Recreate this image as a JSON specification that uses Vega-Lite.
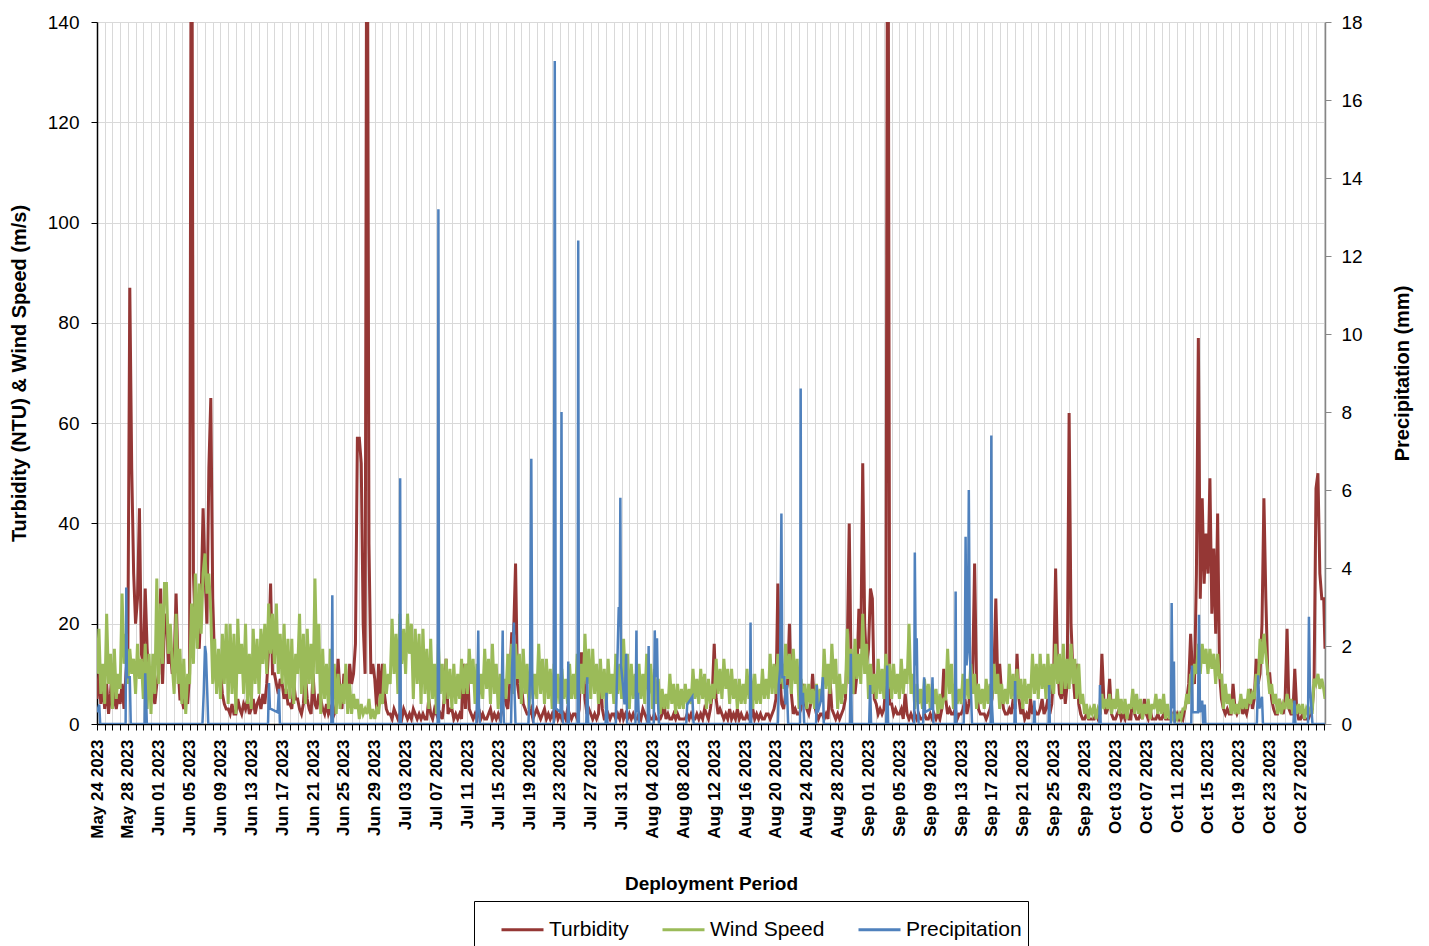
{
"$schema":"https://vega.github.io/schema/vega-lite/v6.json",
"width":1228,"height":702,
"autosize":"none",
"padding":{"left":97,"top":22,"right":104,"bottom":222},
"background":"white",
"config":{"font":"Liberation Sans","view":{"stroke":null}},
"layer":[
{"data":{"values":[
{"t":"2023-05-24T00:00","T":5,"W":10},{"t":"2023-05-24T06:00","T":10,"W":19},{"t":"2023-05-24T12:00","T":4,"W":6},{"t":"2023-05-24T18:00","T":8,"W":12},
{"t":"2023-05-25T00:00","T":3,"W":4},{"t":"2023-05-25T06:00","T":8,"W":22},{"t":"2023-05-25T12:00","T":2,"W":8},{"t":"2023-05-25T18:00","T":6,"W":14},
{"t":"2023-05-26T00:00","T":12,"W":3},{"t":"2023-05-26T06:00","T":5,"W":15},{"t":"2023-05-26T12:00","T":3,"W":5},{"t":"2023-05-26T18:00","T":6,"W":10},
{"t":"2023-05-27T00:00","T":4,"W":7},{"t":"2023-05-27T06:00","T":8,"W":26},{"t":"2023-05-27T12:00","T":3,"W":12},{"t":"2023-05-27T18:00","T":10,"W":18},
{"t":"2023-05-28T00:00","T":15,"W":8},{"t":"2023-05-28T06:00","T":87,"W":15},{"t":"2023-05-28T12:00","T":51,"W":10},{"t":"2023-05-28T18:00","T":30,"W":13},
{"t":"2023-05-29T00:00","T":20,"W":6},{"t":"2023-05-29T06:00","T":25,"W":16},{"t":"2023-05-29T12:00","T":43,"W":9},{"t":"2023-05-29T18:00","T":14,"W":13},
{"t":"2023-05-30T00:00","T":12,"W":5},{"t":"2023-05-30T06:00","T":27,"W":16},{"t":"2023-05-30T12:00","T":15,"W":3},{"t":"2023-05-30T18:00","T":8,"W":14},
{"t":"2023-05-31T00:00","T":10,"W":2},{"t":"2023-05-31T06:00","T":6,"W":14},{"t":"2023-05-31T12:00","T":4,"W":6},{"t":"2023-05-31T18:00","T":8,"W":29},
{"t":"2023-06-01T00:00","T":10,"W":8},{"t":"2023-06-01T06:00","T":27,"W":24},{"t":"2023-06-01T12:00","T":8,"W":12},{"t":"2023-06-01T18:00","T":20,"W":28},
{"t":"2023-06-02T00:00","T":22,"W":28},{"t":"2023-06-02T06:00","T":12,"W":14},{"t":"2023-06-02T12:00","T":15,"W":20},{"t":"2023-06-02T18:00","T":10,"W":12},
{"t":"2023-06-03T00:00","T":12,"W":6},{"t":"2023-06-03T06:00","T":26,"W":22},{"t":"2023-06-03T12:00","T":12,"W":8},{"t":"2023-06-03T18:00","T":5,"W":15},
{"t":"2023-06-04T00:00","T":5,"W":4},{"t":"2023-06-04T06:00","T":3,"W":13},{"t":"2023-06-04T12:00","T":6,"W":2},{"t":"2023-06-04T18:00","T":4,"W":10},
{"t":"2023-06-05T00:00","T":10,"W":8},{"t":"2023-06-05T06:00","T":200,"W":24},{"t":"2023-06-05T12:00","T":30,"W":12},{"t":"2023-06-05T18:00","T":18,"W":30},
{"t":"2023-06-06T00:00","T":20,"W":15},{"t":"2023-06-06T06:00","T":15,"W":28},{"t":"2023-06-06T12:00","T":25,"W":18},{"t":"2023-06-06T18:00","T":43,"W":30},
{"t":"2023-06-07T00:00","T":30,"W":34},{"t":"2023-06-07T06:00","T":20,"W":26},{"t":"2023-06-07T12:00","T":51,"W":30},{"t":"2023-06-07T18:00","T":65,"W":22},
{"t":"2023-06-08T00:00","T":25,"W":8},{"t":"2023-06-08T06:00","T":12,"W":17},{"t":"2023-06-08T12:00","T":8,"W":6},{"t":"2023-06-08T18:00","T":12,"W":15},
{"t":"2023-06-09T00:00","T":11,"W":5},{"t":"2023-06-09T06:00","T":6,"W":18},{"t":"2023-06-09T12:00","T":4,"W":8},{"t":"2023-06-09T18:00","T":3,"W":20},
{"t":"2023-06-10T00:00","T":3,"W":4},{"t":"2023-06-10T06:00","T":2,"W":20},{"t":"2023-06-10T12:00","T":4,"W":6},{"t":"2023-06-10T18:00","T":2,"W":18},
{"t":"2023-06-11T00:00","T":2,"W":2},{"t":"2023-06-11T06:00","T":5,"W":21},{"t":"2023-06-11T12:00","T":3,"W":10},{"t":"2023-06-11T18:00","T":2,"W":16},
{"t":"2023-06-12T00:00","T":4,"W":6},{"t":"2023-06-12T06:00","T":3,"W":20},{"t":"2023-06-12T12:00","T":5,"W":4},{"t":"2023-06-12T18:00","T":2,"W":14},
{"t":"2023-06-13T00:00","T":3,"W":3},{"t":"2023-06-13T06:00","T":5,"W":19},{"t":"2023-06-13T12:00","T":2,"W":8},{"t":"2023-06-13T18:00","T":4,"W":17},
{"t":"2023-06-14T00:00","T":5,"W":6},{"t":"2023-06-14T06:00","T":3,"W":19},{"t":"2023-06-14T12:00","T":6,"W":12},{"t":"2023-06-14T18:00","T":4,"W":20},
{"t":"2023-06-15T00:00","T":8,"W":10},{"t":"2023-06-15T06:00","T":15,"W":24},{"t":"2023-06-15T12:00","T":28,"W":14},{"t":"2023-06-15T18:00","T":10,"W":22},
{"t":"2023-06-16T00:00","T":10,"W":12},{"t":"2023-06-16T06:00","T":8,"W":24},{"t":"2023-06-16T12:00","T":6,"W":10},{"t":"2023-06-16T18:00","T":9,"W":18},
{"t":"2023-06-17T00:00","T":8,"W":8},{"t":"2023-06-17T06:00","T":5,"W":20},{"t":"2023-06-17T12:00","T":7,"W":6},{"t":"2023-06-17T18:00","T":4,"W":17},
{"t":"2023-06-18T00:00","T":4,"W":5},{"t":"2023-06-18T06:00","T":3,"W":17},{"t":"2023-06-18T12:00","T":8,"W":4},{"t":"2023-06-18T18:00","T":5,"W":14},
{"t":"2023-06-19T00:00","T":5,"W":10},{"t":"2023-06-19T06:00","T":3,"W":22},{"t":"2023-06-19T12:00","T":2,"W":6},{"t":"2023-06-19T18:00","T":4,"W":18},
{"t":"2023-06-20T00:00","T":10,"W":4},{"t":"2023-06-20T06:00","T":5,"W":19},{"t":"2023-06-20T12:00","T":3,"W":8},{"t":"2023-06-20T18:00","T":2,"W":16},
{"t":"2023-06-21T00:00","T":10,"W":6},{"t":"2023-06-21T06:00","T":4,"W":29},{"t":"2023-06-21T12:00","T":3,"W":10},{"t":"2023-06-21T18:00","T":6,"W":20},
{"t":"2023-06-22T00:00","T":5,"W":2},{"t":"2023-06-22T06:00","T":3,"W":15},{"t":"2023-06-22T12:00","T":2,"W":5},{"t":"2023-06-22T18:00","T":4,"W":12},
{"t":"2023-06-23T00:00","T":2,"W":3},{"t":"2023-06-23T06:00","T":3,"W":15},{"t":"2023-06-23T12:00","T":1,"W":4},{"t":"2023-06-23T18:00","T":2,"W":12},
{"t":"2023-06-24T00:00","T":4,"W":2},{"t":"2023-06-24T06:00","T":13,"W":10},{"t":"2023-06-24T12:00","T":6,"W":3},{"t":"2023-06-24T18:00","T":3,"W":8},
{"t":"2023-06-25T00:00","T":10,"W":4},{"t":"2023-06-25T06:00","T":8,"W":12},{"t":"2023-06-25T12:00","T":5,"W":2},{"t":"2023-06-25T18:00","T":12,"W":8},
{"t":"2023-06-26T00:00","T":8,"W":2},{"t":"2023-06-26T06:00","T":10,"W":6},{"t":"2023-06-26T12:00","T":16,"W":3},{"t":"2023-06-26T18:00","T":57,"W":5},
{"t":"2023-06-27T00:00","T":57,"W":1},{"t":"2023-06-27T06:00","T":52,"W":4},{"t":"2023-06-27T12:00","T":20,"W":2},{"t":"2023-06-27T18:00","T":10,"W":3},
{"t":"2023-06-28T00:00","T":200,"W":2},{"t":"2023-06-28T06:00","T":36,"W":5},{"t":"2023-06-28T12:00","T":10,"W":1},{"t":"2023-06-28T18:00","T":12,"W":3},
{"t":"2023-06-29T00:00","T":9,"W":1},{"t":"2023-06-29T06:00","T":3,"W":3},{"t":"2023-06-29T12:00","T":12,"W":2},{"t":"2023-06-29T18:00","T":5,"W":6},
{"t":"2023-06-30T00:00","T":12,"W":4},{"t":"2023-06-30T06:00","T":6,"W":12},{"t":"2023-06-30T12:00","T":3,"W":6},{"t":"2023-06-30T18:00","T":2,"W":10},
{"t":"2023-07-01T00:00","T":2,"W":8},{"t":"2023-07-01T06:00","T":1,"W":21},{"t":"2023-07-01T12:00","T":3,"W":10},{"t":"2023-07-01T18:00","T":2,"W":18},
{"t":"2023-07-02T00:00","T":1,"W":6},{"t":"2023-07-02T06:00","T":2,"W":22},{"t":"2023-07-02T12:00","T":1,"W":12},{"t":"2023-07-02T18:00","T":3,"W":19},
{"t":"2023-07-03T00:00","T":2,"W":10},{"t":"2023-07-03T06:00","T":1,"W":22},{"t":"2023-07-03T12:00","T":2,"W":14},{"t":"2023-07-03T18:00","T":1,"W":20},
{"t":"2023-07-04T00:00","T":3,"W":5},{"t":"2023-07-04T06:00","T":2,"W":19},{"t":"2023-07-04T12:00","T":1,"W":8},{"t":"2023-07-04T18:00","T":2,"W":18},
{"t":"2023-07-05T00:00","T":1,"W":4},{"t":"2023-07-05T06:00","T":2,"W":19},{"t":"2023-07-05T12:00","T":1,"W":6},{"t":"2023-07-05T18:00","T":1,"W":15},
{"t":"2023-07-06T00:00","T":5,"W":3},{"t":"2023-07-06T06:00","T":2,"W":17},{"t":"2023-07-06T12:00","T":1,"W":5},{"t":"2023-07-06T18:00","T":3,"W":12},
{"t":"2023-07-07T00:00","T":2,"W":2},{"t":"2023-07-07T06:00","T":1,"W":16},{"t":"2023-07-07T12:00","T":2,"W":6},{"t":"2023-07-07T18:00","T":1,"W":12},
{"t":"2023-07-08T00:00","T":5,"W":4},{"t":"2023-07-08T06:00","T":13,"W":13},{"t":"2023-07-08T12:00","T":2,"W":5},{"t":"2023-07-08T18:00","T":3,"W":11},
{"t":"2023-07-09T00:00","T":3,"W":3},{"t":"2023-07-09T06:00","T":1,"W":12},{"t":"2023-07-09T12:00","T":2,"W":4},{"t":"2023-07-09T18:00","T":1,"W":10},
{"t":"2023-07-10T00:00","T":2,"W":5},{"t":"2023-07-10T06:00","T":1,"W":13},{"t":"2023-07-10T12:00","T":12,"W":6},{"t":"2023-07-10T18:00","T":3,"W":12},
{"t":"2023-07-11T00:00","T":12,"W":6},{"t":"2023-07-11T06:00","T":3,"W":15},{"t":"2023-07-11T12:00","T":2,"W":8},{"t":"2023-07-11T18:00","T":1,"W":13},
{"t":"2023-07-12T00:00","T":2,"W":4},{"t":"2023-07-12T06:00","T":1,"W":12},{"t":"2023-07-12T12:00","T":3,"W":5},{"t":"2023-07-12T18:00","T":1,"W":10},
{"t":"2023-07-13T00:00","T":2,"W":5},{"t":"2023-07-13T06:00","T":1,"W":15},{"t":"2023-07-13T12:00","T":1,"W":7},{"t":"2023-07-13T18:00","T":2,"W":13},
{"t":"2023-07-14T00:00","T":3,"W":4},{"t":"2023-07-14T06:00","T":1,"W":16},{"t":"2023-07-14T12:00","T":2,"W":6},{"t":"2023-07-14T18:00","T":1,"W":12},
{"t":"2023-07-15T00:00","T":2,"W":3},{"t":"2023-07-15T06:00","T":1,"W":10},{"t":"2023-07-15T12:00","T":3,"W":4},{"t":"2023-07-15T18:00","T":8,"W":9},
{"t":"2023-07-16T00:00","T":4,"W":5},{"t":"2023-07-16T06:00","T":3,"W":14},{"t":"2023-07-16T12:00","T":8,"W":8},{"t":"2023-07-16T18:00","T":18,"W":16},
{"t":"2023-07-17T00:00","T":18,"W":6},{"t":"2023-07-17T06:00","T":32,"W":16},{"t":"2023-07-17T12:00","T":8,"W":9},{"t":"2023-07-17T18:00","T":5,"W":14},
{"t":"2023-07-18T00:00","T":8,"W":4},{"t":"2023-07-18T06:00","T":4,"W":15},{"t":"2023-07-18T12:00","T":3,"W":6},{"t":"2023-07-18T18:00","T":2,"W":12},
{"t":"2023-07-19T00:00","T":2,"W":3},{"t":"2023-07-19T06:00","T":3,"W":13},{"t":"2023-07-19T12:00","T":1,"W":5},{"t":"2023-07-19T18:00","T":2,"W":10},
{"t":"2023-07-20T00:00","T":3,"W":5},{"t":"2023-07-20T06:00","T":2,"W":16},{"t":"2023-07-20T12:00","T":1,"W":6},{"t":"2023-07-20T18:00","T":2,"W":13},
{"t":"2023-07-21T00:00","T":3,"W":4},{"t":"2023-07-21T06:00","T":1,"W":13},{"t":"2023-07-21T12:00","T":2,"W":5},{"t":"2023-07-21T18:00","T":1,"W":11},
{"t":"2023-07-22T00:00","T":2,"W":3},{"t":"2023-07-22T06:00","T":1,"W":12},{"t":"2023-07-22T12:00","T":3,"W":4},{"t":"2023-07-22T18:00","T":1,"W":10},
{"t":"2023-07-23T00:00","T":2,"W":4},{"t":"2023-07-23T06:00","T":1,"W":11},{"t":"2023-07-23T12:00","T":2,"W":5},{"t":"2023-07-23T18:00","T":1,"W":9},
{"t":"2023-07-24T00:00","T":3,"W":4},{"t":"2023-07-24T06:00","T":2,"W":12},{"t":"2023-07-24T12:00","T":1,"W":5},{"t":"2023-07-24T18:00","T":2,"W":10},
{"t":"2023-07-25T00:00","T":2,"W":5},{"t":"2023-07-25T06:00","T":1,"W":14},{"t":"2023-07-25T12:00","T":3,"W":6},{"t":"2023-07-25T18:00","T":14,"W":12},
{"t":"2023-07-26T00:00","T":14,"W":6},{"t":"2023-07-26T06:00","T":5,"W":18},{"t":"2023-07-26T12:00","T":2,"W":8},{"t":"2023-07-26T18:00","T":3,"W":15},
{"t":"2023-07-27T00:00","T":2,"W":5},{"t":"2023-07-27T06:00","T":1,"W":15},{"t":"2023-07-27T12:00","T":2,"W":6},{"t":"2023-07-27T18:00","T":1,"W":12},
{"t":"2023-07-28T00:00","T":2,"W":4},{"t":"2023-07-28T06:00","T":10,"W":13},{"t":"2023-07-28T12:00","T":3,"W":5},{"t":"2023-07-28T18:00","T":1,"W":11},
{"t":"2023-07-29T00:00","T":1,"W":3},{"t":"2023-07-29T06:00","T":2,"W":13},{"t":"2023-07-29T12:00","T":1,"W":6},{"t":"2023-07-29T18:00","T":2,"W":10},
{"t":"2023-07-30T00:00","T":2,"W":4},{"t":"2023-07-30T06:00","T":1,"W":14},{"t":"2023-07-30T12:00","T":2,"W":6},{"t":"2023-07-30T18:00","T":1,"W":12},
{"t":"2023-07-31T00:00","T":3,"W":5},{"t":"2023-07-31T06:00","T":1,"W":17},{"t":"2023-07-31T12:00","T":2,"W":8},{"t":"2023-07-31T18:00","T":1,"W":14},
{"t":"2023-08-01T00:00","T":2,"W":3},{"t":"2023-08-01T06:00","T":1,"W":12},{"t":"2023-08-01T12:00","T":2,"W":5},{"t":"2023-08-01T18:00","T":1,"W":10},
{"t":"2023-08-02T00:00","T":1,"W":4},{"t":"2023-08-02T06:00","T":2,"W":12},{"t":"2023-08-02T12:00","T":1,"W":5},{"t":"2023-08-02T18:00","T":3,"W":10},
{"t":"2023-08-03T00:00","T":2,"W":4},{"t":"2023-08-03T06:00","T":1,"W":14},{"t":"2023-08-03T12:00","T":2,"W":6},{"t":"2023-08-03T18:00","T":1,"W":12},
{"t":"2023-08-04T00:00","T":1,"W":3},{"t":"2023-08-04T06:00","T":2,"W":11},{"t":"2023-08-04T12:00","T":1,"W":4},{"t":"2023-08-04T18:00","T":1,"W":9},
{"t":"2023-08-05T00:00","T":1,"W":2},{"t":"2023-08-05T06:00","T":2,"W":7},{"t":"2023-08-05T12:00","T":4,"W":3},{"t":"2023-08-05T18:00","T":1,"W":6},
{"t":"2023-08-06T00:00","T":2,"W":3},{"t":"2023-08-06T06:00","T":1,"W":10},{"t":"2023-08-06T12:00","T":1,"W":4},{"t":"2023-08-06T18:00","T":2,"W":8},
{"t":"2023-08-07T00:00","T":1,"W":2},{"t":"2023-08-07T06:00","T":2,"W":8},{"t":"2023-08-07T12:00","T":1,"W":3},{"t":"2023-08-07T18:00","T":1,"W":7},
{"t":"2023-08-08T00:00","T":1,"W":3},{"t":"2023-08-08T06:00","T":1,"W":8},{"t":"2023-08-08T12:00","T":2,"W":4},{"t":"2023-08-08T18:00","T":1,"W":7},
{"t":"2023-08-09T00:00","T":2,"W":4},{"t":"2023-08-09T06:00","T":1,"W":11},{"t":"2023-08-09T12:00","T":1,"W":5},{"t":"2023-08-09T18:00","T":2,"W":9},
{"t":"2023-08-10T00:00","T":1,"W":4},{"t":"2023-08-10T06:00","T":2,"W":11},{"t":"2023-08-10T12:00","T":1,"W":5},{"t":"2023-08-10T18:00","T":3,"W":10},
{"t":"2023-08-11T00:00","T":2,"W":3},{"t":"2023-08-11T06:00","T":1,"W":9},{"t":"2023-08-11T12:00","T":3,"W":4},{"t":"2023-08-11T18:00","T":6,"W":8},
{"t":"2023-08-12T00:00","T":16,"W":5},{"t":"2023-08-12T06:00","T":5,"W":13},{"t":"2023-08-12T12:00","T":2,"W":6},{"t":"2023-08-12T18:00","T":3,"W":11},
{"t":"2023-08-13T00:00","T":2,"W":5},{"t":"2023-08-13T06:00","T":1,"W":13},{"t":"2023-08-13T12:00","T":2,"W":7},{"t":"2023-08-13T18:00","T":1,"W":11},
{"t":"2023-08-14T00:00","T":3,"W":4},{"t":"2023-08-14T06:00","T":1,"W":11},{"t":"2023-08-14T12:00","T":2,"W":5},{"t":"2023-08-14T18:00","T":1,"W":9},
{"t":"2023-08-15T00:00","T":3,"W":3},{"t":"2023-08-15T06:00","T":1,"W":9},{"t":"2023-08-15T12:00","T":2,"W":4},{"t":"2023-08-15T18:00","T":1,"W":8},
{"t":"2023-08-16T00:00","T":1,"W":4},{"t":"2023-08-16T06:00","T":2,"W":11},{"t":"2023-08-16T12:00","T":1,"W":5},{"t":"2023-08-16T18:00","T":1,"W":10},
{"t":"2023-08-17T00:00","T":3,"W":3},{"t":"2023-08-17T06:00","T":1,"W":10},{"t":"2023-08-17T12:00","T":2,"W":4},{"t":"2023-08-17T18:00","T":1,"W":8},
{"t":"2023-08-18T00:00","T":2,"W":4},{"t":"2023-08-18T06:00","T":1,"W":11},{"t":"2023-08-18T12:00","T":1,"W":5},{"t":"2023-08-18T18:00","T":2,"W":9},
{"t":"2023-08-19T00:00","T":2,"W":5},{"t":"2023-08-19T06:00","T":1,"W":14},{"t":"2023-08-19T12:00","T":2,"W":6},{"t":"2023-08-19T18:00","T":3,"W":12},
{"t":"2023-08-20T00:00","T":5,"W":6},{"t":"2023-08-20T06:00","T":28,"W":14},{"t":"2023-08-20T12:00","T":10,"W":8},{"t":"2023-08-20T18:00","T":4,"W":12},
{"t":"2023-08-21T00:00","T":3,"W":7},{"t":"2023-08-21T06:00","T":6,"W":16},{"t":"2023-08-21T12:00","T":8,"W":9},{"t":"2023-08-21T18:00","T":20,"W":14},
{"t":"2023-08-22T00:00","T":6,"W":6},{"t":"2023-08-22T06:00","T":2,"W":15},{"t":"2023-08-22T12:00","T":3,"W":8},{"t":"2023-08-22T18:00","T":2,"W":13},
{"t":"2023-08-23T00:00","T":2,"W":3},{"t":"2023-08-23T06:00","T":3,"W":9},{"t":"2023-08-23T12:00","T":8,"W":4},{"t":"2023-08-23T18:00","T":4,"W":8},
{"t":"2023-08-24T00:00","T":3,"W":3},{"t":"2023-08-24T06:00","T":2,"W":8},{"t":"2023-08-24T12:00","T":4,"W":4},{"t":"2023-08-24T18:00","T":10,"W":7},
{"t":"2023-08-25T00:00","T":4,"W":3},{"t":"2023-08-25T06:00","T":2,"W":8},{"t":"2023-08-25T12:00","T":1,"W":4},{"t":"2023-08-25T18:00","T":2,"W":7},
{"t":"2023-08-26T00:00","T":2,"W":5},{"t":"2023-08-26T06:00","T":1,"W":15},{"t":"2023-08-26T12:00","T":2,"W":7},{"t":"2023-08-26T18:00","T":1,"W":12},
{"t":"2023-08-27T00:00","T":9,"W":6},{"t":"2023-08-27T06:00","T":3,"W":16},{"t":"2023-08-27T12:00","T":2,"W":8},{"t":"2023-08-27T18:00","T":1,"W":13},
{"t":"2023-08-28T00:00","T":2,"W":3},{"t":"2023-08-28T06:00","T":1,"W":10},{"t":"2023-08-28T12:00","T":2,"W":4},{"t":"2023-08-28T18:00","T":3,"W":8},
{"t":"2023-08-29T00:00","T":5,"W":6},{"t":"2023-08-29T06:00","T":15,"W":19},{"t":"2023-08-29T12:00","T":40,"W":8},{"t":"2023-08-29T18:00","T":10,"W":15},
{"t":"2023-08-30T00:00","T":8,"W":6},{"t":"2023-08-30T06:00","T":6,"W":17},{"t":"2023-08-30T12:00","T":10,"W":9},{"t":"2023-08-30T18:00","T":23,"W":14},
{"t":"2023-08-31T00:00","T":15,"W":8},{"t":"2023-08-31T06:00","T":52,"W":22},{"t":"2023-08-31T12:00","T":20,"W":10},{"t":"2023-08-31T18:00","T":12,"W":16},
{"t":"2023-09-01T00:00","T":15,"W":5},{"t":"2023-09-01T06:00","T":27,"W":12},{"t":"2023-09-01T12:00","T":25,"W":6},{"t":"2023-09-01T18:00","T":5,"W":10},
{"t":"2023-09-02T00:00","T":4,"W":5},{"t":"2023-09-02T06:00","T":2,"W":13},{"t":"2023-09-02T12:00","T":3,"W":6},{"t":"2023-09-02T18:00","T":2,"W":11},
{"t":"2023-09-03T00:00","T":3,"W":5},{"t":"2023-09-03T06:00","T":8,"W":14},{"t":"2023-09-03T12:00","T":200,"W":7},{"t":"2023-09-03T18:00","T":4,"W":12},
{"t":"2023-09-04T00:00","T":4,"W":5},{"t":"2023-09-04T06:00","T":2,"W":12},{"t":"2023-09-04T12:00","T":3,"W":6},{"t":"2023-09-04T18:00","T":2,"W":10},
{"t":"2023-09-05T00:00","T":2,"W":5},{"t":"2023-09-05T06:00","T":3,"W":13},{"t":"2023-09-05T12:00","T":1,"W":6},{"t":"2023-09-05T18:00","T":6,"W":11},
{"t":"2023-09-06T00:00","T":2,"W":8},{"t":"2023-09-06T06:00","T":1,"W":20},{"t":"2023-09-06T12:00","T":2,"W":6},{"t":"2023-09-06T18:00","T":1,"W":10},
{"t":"2023-09-07T00:00","T":2,"W":3},{"t":"2023-09-07T06:00","T":1,"W":8},{"t":"2023-09-07T12:00","T":2,"W":4},{"t":"2023-09-07T18:00","T":1,"W":7},
{"t":"2023-09-08T00:00","T":1,"W":3},{"t":"2023-09-08T06:00","T":2,"W":9},{"t":"2023-09-08T12:00","T":1,"W":4},{"t":"2023-09-08T18:00","T":1,"W":8},
{"t":"2023-09-09T00:00","T":2,"W":3},{"t":"2023-09-09T06:00","T":1,"W":8},{"t":"2023-09-09T12:00","T":2,"W":4},{"t":"2023-09-09T18:00","T":1,"W":7},
{"t":"2023-09-10T00:00","T":2,"W":2},{"t":"2023-09-10T06:00","T":1,"W":6},{"t":"2023-09-10T12:00","T":3,"W":3},{"t":"2023-09-10T18:00","T":11,"W":5},
{"t":"2023-09-11T00:00","T":5,"W":5},{"t":"2023-09-11T06:00","T":2,"W":15},{"t":"2023-09-11T12:00","T":3,"W":6},{"t":"2023-09-11T18:00","T":2,"W":12},
{"t":"2023-09-12T00:00","T":2,"W":3},{"t":"2023-09-12T06:00","T":3,"W":8},{"t":"2023-09-12T12:00","T":1,"W":4},{"t":"2023-09-12T18:00","T":2,"W":7},
{"t":"2023-09-13T00:00","T":2,"W":4},{"t":"2023-09-13T06:00","T":3,"W":10},{"t":"2023-09-13T12:00","T":5,"W":5},{"t":"2023-09-13T18:00","T":2,"W":9},
{"t":"2023-09-14T00:00","T":4,"W":5},{"t":"2023-09-14T06:00","T":8,"W":12},{"t":"2023-09-14T12:00","T":10,"W":6},{"t":"2023-09-14T18:00","T":32,"W":10},
{"t":"2023-09-15T00:00","T":8,"W":3},{"t":"2023-09-15T06:00","T":3,"W":8},{"t":"2023-09-15T12:00","T":2,"W":4},{"t":"2023-09-15T18:00","T":2,"W":7},
{"t":"2023-09-16T00:00","T":2,"W":3},{"t":"2023-09-16T06:00","T":1,"W":9},{"t":"2023-09-16T12:00","T":2,"W":4},{"t":"2023-09-16T18:00","T":3,"W":8},
{"t":"2023-09-17T00:00","T":5,"W":5},{"t":"2023-09-17T06:00","T":10,"W":12},{"t":"2023-09-17T12:00","T":25,"W":6},{"t":"2023-09-17T18:00","T":8,"W":10},
{"t":"2023-09-18T00:00","T":12,"W":3},{"t":"2023-09-18T06:00","T":6,"W":8},{"t":"2023-09-18T12:00","T":3,"W":4},{"t":"2023-09-18T18:00","T":2,"W":7},
{"t":"2023-09-19T00:00","T":2,"W":4},{"t":"2023-09-19T06:00","T":3,"W":12},{"t":"2023-09-19T12:00","T":2,"W":5},{"t":"2023-09-19T18:00","T":5,"W":10},
{"t":"2023-09-20T00:00","T":3,"W":4},{"t":"2023-09-20T06:00","T":14,"W":11},{"t":"2023-09-20T12:00","T":5,"W":5},{"t":"2023-09-20T18:00","T":2,"W":9},
{"t":"2023-09-21T00:00","T":3,"W":3},{"t":"2023-09-21T06:00","T":1,"W":9},{"t":"2023-09-21T12:00","T":2,"W":4},{"t":"2023-09-21T18:00","T":1,"W":8},
{"t":"2023-09-22T00:00","T":5,"W":5},{"t":"2023-09-22T06:00","T":2,"W":14},{"t":"2023-09-22T12:00","T":3,"W":6},{"t":"2023-09-22T18:00","T":2,"W":12},
{"t":"2023-09-23T00:00","T":2,"W":5},{"t":"2023-09-23T06:00","T":3,"W":14},{"t":"2023-09-23T12:00","T":5,"W":7},{"t":"2023-09-23T18:00","T":2,"W":12},
{"t":"2023-09-24T00:00","T":3,"W":5},{"t":"2023-09-24T06:00","T":5,"W":14},{"t":"2023-09-24T12:00","T":2,"W":6},{"t":"2023-09-24T18:00","T":4,"W":12},
{"t":"2023-09-25T00:00","T":10,"W":6},{"t":"2023-09-25T06:00","T":31,"W":16},{"t":"2023-09-25T12:00","T":12,"W":8},{"t":"2023-09-25T18:00","T":6,"W":14},
{"t":"2023-09-26T00:00","T":5,"W":6},{"t":"2023-09-26T06:00","T":10,"W":16},{"t":"2023-09-26T12:00","T":4,"W":7},{"t":"2023-09-26T18:00","T":8,"W":13},
{"t":"2023-09-27T00:00","T":62,"W":7},{"t":"2023-09-27T06:00","T":20,"W":16},{"t":"2023-09-27T12:00","T":10,"W":8},{"t":"2023-09-27T18:00","T":5,"W":13},
{"t":"2023-09-28T00:00","T":12,"W":5},{"t":"2023-09-28T06:00","T":4,"W":12},{"t":"2023-09-28T12:00","T":2,"W":4},{"t":"2023-09-28T18:00","T":1,"W":6},
{"t":"2023-09-29T00:00","T":1,"W":2},{"t":"2023-09-29T06:00","T":2,"W":4},{"t":"2023-09-29T12:00","T":1,"W":1},{"t":"2023-09-29T18:00","T":1,"W":3},
{"t":"2023-09-30T00:00","T":1,"W":2},{"t":"2023-09-30T06:00","T":1,"W":4},{"t":"2023-09-30T12:00","T":2,"W":1},{"t":"2023-09-30T18:00","T":1,"W":3},
{"t":"2023-10-01T00:00","T":2,"W":2},{"t":"2023-10-01T06:00","T":14,"W":6},{"t":"2023-10-01T12:00","T":5,"W":3},{"t":"2023-10-01T18:00","T":2,"W":5},
{"t":"2023-10-02T00:00","T":3,"W":3},{"t":"2023-10-02T06:00","T":9,"W":6},{"t":"2023-10-02T12:00","T":2,"W":2},{"t":"2023-10-02T18:00","T":1,"W":5},
{"t":"2023-10-03T00:00","T":1,"W":3},{"t":"2023-10-03T06:00","T":2,"W":7},{"t":"2023-10-03T12:00","T":3,"W":2},{"t":"2023-10-03T18:00","T":1,"W":5},
{"t":"2023-10-04T00:00","T":2,"W":2},{"t":"2023-10-04T06:00","T":1,"W":5},{"t":"2023-10-04T12:00","T":3,"W":1},{"t":"2023-10-04T18:00","T":1,"W":4},
{"t":"2023-10-05T00:00","T":1,"W":3},{"t":"2023-10-05T06:00","T":6,"W":7},{"t":"2023-10-05T12:00","T":2,"W":2},{"t":"2023-10-05T18:00","T":1,"W":6},
{"t":"2023-10-06T00:00","T":1,"W":2},{"t":"2023-10-06T06:00","T":2,"W":5},{"t":"2023-10-06T12:00","T":1,"W":1},{"t":"2023-10-06T18:00","T":5,"W":4},
{"t":"2023-10-07T00:00","T":2,"W":2},{"t":"2023-10-07T06:00","T":1,"W":5},{"t":"2023-10-07T12:00","T":3,"W":1},{"t":"2023-10-07T18:00","T":1,"W":4},
{"t":"2023-10-08T00:00","T":1,"W":3},{"t":"2023-10-08T06:00","T":1,"W":6},{"t":"2023-10-08T12:00","T":2,"W":2},{"t":"2023-10-08T18:00","T":1,"W":5},
{"t":"2023-10-09T00:00","T":1,"W":2},{"t":"2023-10-09T06:00","T":2,"W":6},{"t":"2023-10-09T12:00","T":1,"W":1},{"t":"2023-10-09T18:00","T":1,"W":4},
{"t":"2023-10-10T00:00","T":1,"W":1},{"t":"2023-10-10T06:00","T":1,"W":2},{"t":"2023-10-10T12:00","T":2,"W":1},{"t":"2023-10-10T18:00","T":1,"W":2},
{"t":"2023-10-11T00:00","T":2,"W":1},{"t":"2023-10-11T06:00","T":1,"W":2},{"t":"2023-10-11T12:00","T":2,"W":1},{"t":"2023-10-11T18:00","T":1,"W":3},
{"t":"2023-10-12T00:00","T":3,"W":3},{"t":"2023-10-12T06:00","T":5,"W":6},{"t":"2023-10-12T12:00","T":8,"W":4},{"t":"2023-10-12T18:00","T":18,"W":10},
{"t":"2023-10-13T00:00","T":10,"W":8},{"t":"2023-10-13T06:00","T":8,"W":12},{"t":"2023-10-13T12:00","T":30,"W":10},{"t":"2023-10-13T18:00","T":77,"W":16},
{"t":"2023-10-14T00:00","T":25,"W":10},{"t":"2023-10-14T06:00","T":45,"W":16},{"t":"2023-10-14T12:00","T":28,"W":12},{"t":"2023-10-14T18:00","T":38,"W":15},
{"t":"2023-10-15T00:00","T":30,"W":10},{"t":"2023-10-15T06:00","T":49,"W":15},{"t":"2023-10-15T12:00","T":22,"W":11},{"t":"2023-10-15T18:00","T":35,"W":14},
{"t":"2023-10-16T00:00","T":18,"W":8},{"t":"2023-10-16T06:00","T":42,"W":14},{"t":"2023-10-16T12:00","T":10,"W":9},{"t":"2023-10-16T18:00","T":5,"W":10},
{"t":"2023-10-17T00:00","T":3,"W":3},{"t":"2023-10-17T06:00","T":2,"W":8},{"t":"2023-10-17T12:00","T":3,"W":4},{"t":"2023-10-17T18:00","T":2,"W":6},
{"t":"2023-10-18T00:00","T":2,"W":2},{"t":"2023-10-18T06:00","T":8,"W":5},{"t":"2023-10-18T12:00","T":3,"W":2},{"t":"2023-10-18T18:00","T":2,"W":4},
{"t":"2023-10-19T00:00","T":3,"W":2},{"t":"2023-10-19T06:00","T":5,"W":6},{"t":"2023-10-19T12:00","T":2,"W":3},{"t":"2023-10-19T18:00","T":3,"W":5},
{"t":"2023-10-20T00:00","T":2,"W":3},{"t":"2023-10-20T06:00","T":4,"W":7},{"t":"2023-10-20T12:00","T":7,"W":4},{"t":"2023-10-20T18:00","T":3,"W":6},
{"t":"2023-10-21T00:00","T":5,"W":5},{"t":"2023-10-21T06:00","T":13,"W":10},{"t":"2023-10-21T12:00","T":8,"W":8},{"t":"2023-10-21T18:00","T":10,"W":17},
{"t":"2023-10-22T00:00","T":20,"W":12},{"t":"2023-10-22T06:00","T":45,"W":18},{"t":"2023-10-22T12:00","T":25,"W":14},{"t":"2023-10-22T18:00","T":10,"W":10},
{"t":"2023-10-23T00:00","T":10,"W":6},{"t":"2023-10-23T06:00","T":5,"W":8},{"t":"2023-10-23T12:00","T":3,"W":4},{"t":"2023-10-23T18:00","T":2,"W":6},
{"t":"2023-10-24T00:00","T":2,"W":2},{"t":"2023-10-24T06:00","T":5,"W":5},{"t":"2023-10-24T12:00","T":3,"W":2},{"t":"2023-10-24T18:00","T":2,"W":4},
{"t":"2023-10-25T00:00","T":5,"W":3},{"t":"2023-10-25T06:00","T":19,"W":6},{"t":"2023-10-25T12:00","T":3,"W":3},{"t":"2023-10-25T18:00","T":2,"W":5},
{"t":"2023-10-26T00:00","T":2,"W":2},{"t":"2023-10-26T06:00","T":11,"W":4},{"t":"2023-10-26T12:00","T":3,"W":2},{"t":"2023-10-26T18:00","T":1,"W":4},
{"t":"2023-10-27T00:00","T":1,"W":2},{"t":"2023-10-27T06:00","T":2,"W":4},{"t":"2023-10-27T12:00","T":1,"W":1},{"t":"2023-10-27T18:00","T":1,"W":3},
{"t":"2023-10-28T00:00","T":1,"W":2},{"t":"2023-10-28T06:00","T":2,"W":3},{"t":"2023-10-28T12:00","T":3,"W":2},{"t":"2023-10-28T18:00","T":8,"W":9},
{"t":"2023-10-29T00:00","T":47,"W":8},{"t":"2023-10-29T06:00","T":50,"W":10},{"t":"2023-10-29T12:00","T":30,"W":7},{"t":"2023-10-29T18:00","T":25,"W":9},
{"t":"2023-10-30T00:00","T":25,"W":7},{"t":"2023-10-30T04:00","T":15,"W":5}
]},
"transform":[{"fold":["T","W"],"as":["k","v"]}],
"mark":{"type":"line","strokeWidth":3,"clip":true},
"encoding":{
"x":{"field":"t","type":"temporal",
"scale":{"domain":[{"year":2023,"month":5,"date":24},{"year":2023,"month":10,"date":30,"hours":4}]},
"axis":{"title":"Deployment Period","titleFontSize":19,"titleFontWeight":"bold","titleColor":"#000","titlePadding":36,
"tickCount":{"interval":"day","step":1},
"labelExpr":"round((datum.value - time(datetime(2023,4,24)))/86400000) % 4 == 0 ? timeFormat(datum.value, '%b %d %Y') : ''",
"labelAngle":270,"labelAlign":"right","labelBaseline":"middle","labelFontSize":17,"labelFontWeight":"bold","labelColor":"#000",
"labelOverlap":false,"labelFlush":false,"labelPadding":9,
"grid":true,"gridColor":"#d9d9d9","gridWidth":1,"domainColor":"#000","domainWidth":1.5,"tickColor":"#000","tickSize":6}},
"y":{"field":"v","type":"quantitative","scale":{"domain":[0,140]},
"axis":{"title":"Turbidity (NTU) & Wind Speed (m/s)","values":[0,20,40,60,80,100,120,140],"grid":true,"gridColor":"#d9d9d9",
"domainColor":"#000","domainWidth":1.5,"tickColor":"#000","tickSize":6,"labelFontSize":19,"labelColor":"#000","labelPadding":12,
"titleFontSize":20,"titleFontWeight":"bold","titleColor":"#000","titlePadding":18}},
"color":{"field":"k","type":"nominal","scale":{"domain":["T","W","P"],"range":["#953735","#9BBB59","#4F81BD"]},
"legend":{"orient":"none","legendX":377,"legendY":879,"direction":"horizontal","title":" ","titleOrient":"left","titleFontSize":20,"titlePadding":20,
"strokeColor":"#000","fillColor":"#fff","padding":6,
"symbolType":"stroke","symbolSize":1764,"symbolStrokeWidth":3,"labelFontSize":21,"labelColor":"#000","labelOffset":4,"columnPadding":27,
"labelExpr":"datum.label == 'T' ? 'Turbidity' : datum.label == 'W' ? 'Wind Speed' : 'Precipitation'"}}
}},
{"data":{"values":[
{"t":"2023-05-24T00:00","P":0.3},{"t":"2023-05-24T07:00","P":0.5},{"t":"2023-05-24T10:00","P":0},
{"t":"2023-05-27T17:00","P":0},{"t":"2023-05-27T19:00","P":3.5},{"t":"2023-05-27T21:00","P":1.2},{"t":"2023-05-28T06:00","P":1.2},{"t":"2023-05-28T09:00","P":0},
{"t":"2023-05-30T04:00","P":0},{"t":"2023-05-30T06:00","P":1.3},{"t":"2023-05-30T09:00","P":0.6},{"t":"2023-05-30T11:00","P":0},
{"t":"2023-06-06T16:00","P":0},{"t":"2023-06-06T20:00","P":0.8},{"t":"2023-06-07T00:00","P":2.0},{"t":"2023-06-07T03:00","P":1.8},{"t":"2023-06-07T07:00","P":0.8},{"t":"2023-06-07T10:00","P":0},
{"t":"2023-06-15T04:00","P":0},{"t":"2023-06-15T07:00","P":1.05},{"t":"2023-06-15T10:00","P":0.4},{"t":"2023-06-16T10:00","P":0.3},{"t":"2023-06-16T14:00","P":0.9},{"t":"2023-06-16T17:00","P":0},
{"t":"2023-06-23T09:00","P":0},{"t":"2023-06-23T12:00","P":3.3},{"t":"2023-06-23T14:00","P":0},
{"t":"2023-07-02T05:00","P":0},{"t":"2023-07-02T07:00","P":6.3},{"t":"2023-07-02T09:00","P":0},
{"t":"2023-07-07T04:00","P":0},{"t":"2023-07-07T06:00","P":13.2},{"t":"2023-07-07T08:00","P":0},
{"t":"2023-07-12T04:00","P":0},{"t":"2023-07-12T07:00","P":0.7},{"t":"2023-07-12T10:00","P":2.4},{"t":"2023-07-12T12:00","P":0.5},{"t":"2023-07-12T15:00","P":0},
{"t":"2023-07-15T08:00","P":0},{"t":"2023-07-15T12:00","P":1.3},{"t":"2023-07-15T14:00","P":2.4},{"t":"2023-07-15T16:00","P":0.6},{"t":"2023-07-15T18:00","P":0},
{"t":"2023-07-16T16:00","P":0},{"t":"2023-07-16T19:00","P":1.4},{"t":"2023-07-17T01:00","P":2.6},{"t":"2023-07-17T03:00","P":0.8},{"t":"2023-07-17T06:00","P":0},
{"t":"2023-07-18T22:00","P":0},{"t":"2023-07-19T03:00","P":1.2},{"t":"2023-07-19T07:00","P":6.8},{"t":"2023-07-19T10:00","P":1.0},{"t":"2023-07-19T14:00","P":0},
{"t":"2023-07-22T05:00","P":0},{"t":"2023-07-22T08:00","P":17},{"t":"2023-07-22T11:00","P":0.4},{"t":"2023-07-23T02:00","P":0.3},{"t":"2023-07-23T05:00","P":8.0},{"t":"2023-07-23T07:00","P":0.3},{"t":"2023-07-23T10:00","P":0},
{"t":"2023-07-24T00:00","P":0},{"t":"2023-07-24T02:00","P":1.6},{"t":"2023-07-24T04:00","P":0},
{"t":"2023-07-25T07:00","P":0},{"t":"2023-07-25T09:00","P":12.4},{"t":"2023-07-25T11:00","P":0},
{"t":"2023-07-26T10:00","P":0},{"t":"2023-07-26T13:00","P":1.2},{"t":"2023-07-26T16:00","P":0},
{"t":"2023-07-28T22:00","P":0},{"t":"2023-07-29T01:00","P":0.8},{"t":"2023-07-29T04:00","P":0},
{"t":"2023-07-30T06:00","P":0},{"t":"2023-07-30T09:00","P":1.0},{"t":"2023-07-30T12:00","P":2.0},{"t":"2023-07-30T15:00","P":3.0},{"t":"2023-07-30T18:00","P":2.5},{"t":"2023-07-30T20:00","P":5.8},{"t":"2023-07-30T22:00","P":1.5},{"t":"2023-07-31T04:00","P":1.0},{"t":"2023-07-31T09:00","P":0.5},{"t":"2023-07-31T14:00","P":1.8},{"t":"2023-07-31T17:00","P":0},
{"t":"2023-08-01T19:00","P":0},{"t":"2023-08-01T22:00","P":2.4},{"t":"2023-08-02T00:00","P":0.3},{"t":"2023-08-02T03:00","P":0.8},{"t":"2023-08-02T06:00","P":0},
{"t":"2023-08-03T09:00","P":0},{"t":"2023-08-03T12:00","P":2.0},{"t":"2023-08-03T14:00","P":0},
{"t":"2023-08-04T04:00","P":0},{"t":"2023-08-04T07:00","P":2.4},{"t":"2023-08-04T10:00","P":1.2},{"t":"2023-08-04T14:00","P":2.2},{"t":"2023-08-04T17:00","P":0.6},{"t":"2023-08-04T20:00","P":0},
{"t":"2023-08-08T09:00","P":0},{"t":"2023-08-08T12:00","P":0.5},{"t":"2023-08-08T20:00","P":0.6},{"t":"2023-08-09T04:00","P":0.7},{"t":"2023-08-09T08:00","P":0},
{"t":"2023-08-16T15:00","P":0},{"t":"2023-08-16T17:00","P":2.6},{"t":"2023-08-16T19:00","P":0},
{"t":"2023-08-20T06:00","P":0},{"t":"2023-08-20T09:00","P":1.0},{"t":"2023-08-20T13:00","P":1.4},{"t":"2023-08-20T17:00","P":5.4},{"t":"2023-08-20T20:00","P":1.2},{"t":"2023-08-21T02:00","P":1.2},{"t":"2023-08-21T06:00","P":0.5},{"t":"2023-08-21T10:00","P":1.0},{"t":"2023-08-21T14:00","P":0},
{"t":"2023-08-23T03:00","P":0},{"t":"2023-08-23T05:00","P":8.6},{"t":"2023-08-23T07:00","P":0.5},{"t":"2023-08-23T12:00","P":0.8},{"t":"2023-08-23T16:00","P":0},
{"t":"2023-08-25T05:00","P":0},{"t":"2023-08-25T07:00","P":1.0},{"t":"2023-08-25T10:00","P":0.3},{"t":"2023-08-25T20:00","P":0.6},{"t":"2023-08-26T02:00","P":1.2},{"t":"2023-08-26T05:00","P":0},
{"t":"2023-08-29T14:00","P":0},{"t":"2023-08-29T17:00","P":1.8},{"t":"2023-08-29T20:00","P":0},
{"t":"2023-09-01T02:00","P":0},{"t":"2023-09-01T05:00","P":1.0},{"t":"2023-09-01T08:00","P":0},
{"t":"2023-09-03T07:00","P":0},{"t":"2023-09-03T10:00","P":1.5},{"t":"2023-09-03T13:00","P":0},
{"t":"2023-09-06T22:00","P":0},{"t":"2023-09-07T00:00","P":4.4},{"t":"2023-09-07T03:00","P":1.5},{"t":"2023-09-07T06:00","P":2.2},{"t":"2023-09-07T09:00","P":0.5},{"t":"2023-09-07T12:00","P":0},
{"t":"2023-09-08T02:00","P":0},{"t":"2023-09-08T05:00","P":1.2},{"t":"2023-09-08T08:00","P":0.3},{"t":"2023-09-09T04:00","P":0.4},{"t":"2023-09-09T07:00","P":1.2},{"t":"2023-09-09T10:00","P":0},
{"t":"2023-09-12T05:00","P":0},{"t":"2023-09-12T07:00","P":3.4},{"t":"2023-09-12T09:00","P":0},
{"t":"2023-09-13T08:00","P":0},{"t":"2023-09-13T11:00","P":1.0},{"t":"2023-09-13T14:00","P":4.8},{"t":"2023-09-13T17:00","P":1.5},{"t":"2023-09-13T21:00","P":2.0},{"t":"2023-09-14T00:00","P":6.0},{"t":"2023-09-14T03:00","P":2.0},{"t":"2023-09-14T06:00","P":1.0},{"t":"2023-09-14T10:00","P":0},
{"t":"2023-09-16T20:00","P":0},{"t":"2023-09-16T22:00","P":7.4},{"t":"2023-09-17T00:00","P":0.5},{"t":"2023-09-17T03:00","P":0},
{"t":"2023-09-19T22:00","P":0},{"t":"2023-09-20T00:00","P":1.1},{"t":"2023-09-20T02:00","P":0},
{"t":"2023-09-22T10:00","P":0},{"t":"2023-09-22T12:00","P":0.6},{"t":"2023-09-22T14:00","P":0},
{"t":"2023-09-24T08:00","P":0},{"t":"2023-09-24T10:00","P":1.0},{"t":"2023-09-24T12:00","P":0},
{"t":"2023-09-30T22:00","P":0},{"t":"2023-10-01T00:00","P":1.0},{"t":"2023-10-01T02:00","P":0},
{"t":"2023-10-10T05:00","P":0},{"t":"2023-10-10T07:00","P":3.1},{"t":"2023-10-10T10:00","P":0.4},{"t":"2023-10-10T14:00","P":1.6},{"t":"2023-10-10T16:00","P":0},
{"t":"2023-10-12T20:00","P":0},{"t":"2023-10-12T22:00","P":1.5},{"t":"2023-10-13T00:00","P":0.3},{"t":"2023-10-13T17:00","P":0.3},{"t":"2023-10-13T20:00","P":2.8},{"t":"2023-10-13T23:00","P":0.3},{"t":"2023-10-14T06:00","P":0.6},{"t":"2023-10-14T09:00","P":0},{"t":"2023-10-14T14:00","P":0.5},{"t":"2023-10-14T16:00","P":0},
{"t":"2023-10-21T08:00","P":0},{"t":"2023-10-21T12:00","P":1.25},{"t":"2023-10-21T16:00","P":0.4},{"t":"2023-10-22T00:00","P":0.7},{"t":"2023-10-22T03:00","P":0},
{"t":"2023-10-26T02:00","P":0},{"t":"2023-10-26T05:00","P":0.6},{"t":"2023-10-26T08:00","P":0},
{"t":"2023-10-27T23:00","P":0},{"t":"2023-10-28T02:00","P":2.75},{"t":"2023-10-28T05:00","P":1.0},{"t":"2023-10-28T09:00","P":0.5},{"t":"2023-10-28T13:00","P":0},
{"t":"2023-10-30T04:00","P":0}
]},
"transform":[{"fold":["P"],"as":["k","v"]}],
"mark":{"type":"line","strokeWidth":2.5,"clip":true},
"encoding":{
"x":{"field":"t","type":"temporal"},
"y":{"field":"v","type":"quantitative","scale":{"domain":[0,18]},
"axis":{"orient":"right","title":"Precipitation (mm)","values":[0,2,4,6,8,10,12,14,16,18],"grid":false,
"domainColor":"#868686","domainWidth":1.5,"tickColor":"#868686","tickSize":6,"labelFontSize":19,"labelColor":"#000","labelPadding":10,
"titleAngle":270,"titleFontSize":20,"titleFontWeight":"bold","titleColor":"#000","titlePadding":50}},
"color":{"field":"k","type":"nominal"}
}}
],
"resolve":{"scale":{"y":"independent"}}
}
